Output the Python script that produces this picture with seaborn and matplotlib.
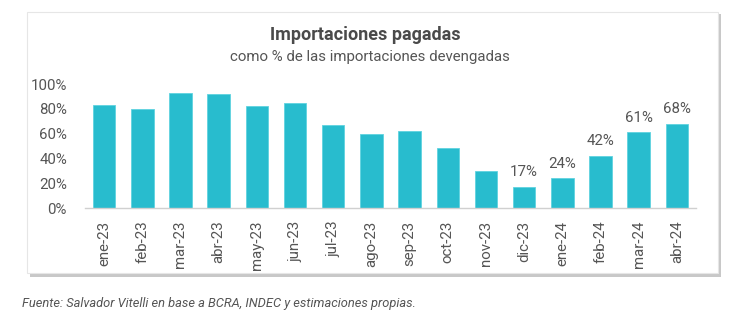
import matplotlib
matplotlib.use("Agg")
import matplotlib.pyplot as plt
import seaborn as sns
import pandas as pd
from matplotlib.patches import Rectangle

months = ["ene-23", "feb-23", "mar-23", "abr-23", "may-23", "jun-23", "jul-23", "ago-23",
          "sep-23", "oct-23", "nov-23", "dic-23", "ene-24", "feb-24", "mar-24", "abr-24"]
values = [83, 80, 93, 92, 82, 85, 67, 60, 62, 48, 30, 17, 24, 42, 61, 68]
labeled = ["dic-23", "ene-24", "feb-24", "mar-24", "abr-24"]
yticks = [0, 20, 40, 60, 80, 100]

title = "Importaciones pagadas"
subtitle = "como % de las importaciones devengadas"
source = "Fuente: Salvador Vitelli en base a BCRA, INDEC y estimaciones propias."

df = pd.DataFrame({"mes": months, "valor": values})

sns.set_theme(style="white")
plt.rcParams["font.family"] = ["Roboto", "DejaVu Sans"]

W, H = 730, 324
fig = plt.figure(figsize=(W / 100, H / 100), dpi=100)
fig.patch.set_facecolor("white")

# card shadow and card
fig.patches.append(Rectangle((30 / W, 1 - 277 / H), 691 / W, 263 / H, transform=fig.transFigure,
                             facecolor="#c8c8c8", edgecolor="none", zorder=-2))
fig.patches.append(Rectangle((27 / W, 1 - 273 / H), 691 / W, 261 / H, transform=fig.transFigure,
                             facecolor="white", edgecolor="#e6e6e6", linewidth=0.8, zorder=-1))

ax = fig.add_axes([85 / W, 1 - 208 / H, (696 - 85) / W, 124 / H])
ax.set_facecolor("none")
ax.set_zorder(2)
sns.barplot(data=df, x="mes", y="valor", color="#28BCCE", width=0.59, saturation=1,
            edgecolor="#5fd3e0", linewidth=0.6, ax=ax)

ax.set_ylim(0, 100)
ax.set_xlim(-0.5, len(months) - 0.5)
ax.set_yticks(yticks)
ax.set_yticklabels([f"{t}%" for t in yticks], fontsize=10.8, color="#555555")
ax.set_xticks(range(len(months)))
ax.set_xticklabels(months, rotation=90, fontsize=10.8, color="#555555")
ax.tick_params(axis="y", length=0, pad=13)
ax.tick_params(axis="x", length=0, pad=9)
ax.set_xlabel("")
ax.set_ylabel("")
for s in ["top", "right", "left"]:
    ax.spines[s].set_visible(False)
ax.spines["bottom"].set_color("#d0d0d0")
ax.spines["bottom"].set_linewidth(1)

# minor ticks at category boundaries
ax.set_xticks([i - 0.5 for i in range(len(months) + 1)], minor=True)
ax.tick_params(axis="x", which="minor", length=4, color="#d0d0d0", width=1, direction="out")

for i, (m, v) in enumerate(zip(months, values)):
    if m in labeled:
        ax.text(i, v + 6, f"{v}%", ha="center", va="bottom", fontsize=10.8, color="#555555")

fig.text(365 / W, 1 - 35 / H, title, ha="center", va="center", fontsize=13,
         fontweight="bold", color="#4a4a4a", zorder=3)
fig.text(370 / W, 1 - 57 / H, subtitle, ha="center", va="center", fontsize=10.8,
         color="#555555", zorder=3)
fig.text(22 / W, 1 - 303 / H, source, ha="left", va="center", fontsize=9.3,
         style="italic", color="#555555", zorder=3)

fig.savefig("out.png", dpi=100)
